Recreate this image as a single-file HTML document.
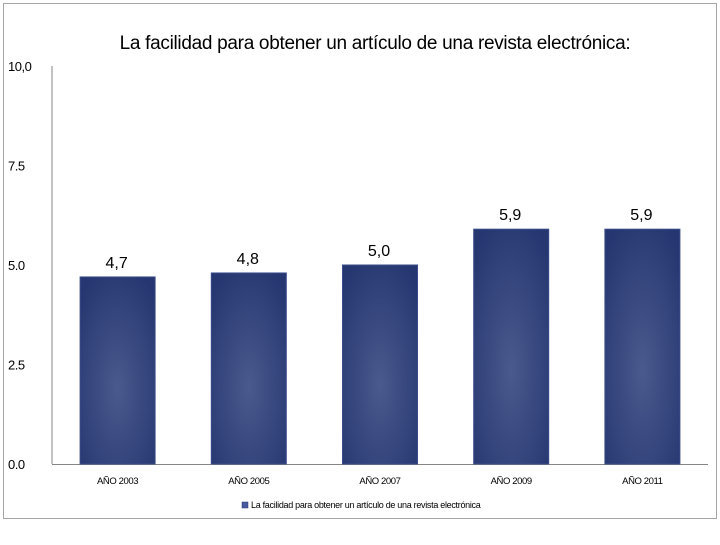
<!DOCTYPE html>
<html><head><meta charset="utf-8"><style>
body{margin:0;background:#fff;font-family:"Liberation Sans",sans-serif;}
svg text{font-family:"Liberation Sans",sans-serif;}
</style></head><body>
<svg width="720" height="540">
<defs>
<radialGradient id="bg" cx="0.5" cy="0.6" r="0.7">
<stop offset="0" stop-color="#4a5a8e"/><stop offset="1" stop-color="#253670"/>
</radialGradient>
</defs>
<rect x="3.5" y="3.5" width="713" height="515" fill="#fff" stroke="#a6a6a6"/>
<text x="375" y="49" text-anchor="middle" font-size="19" letter-spacing="-0.3" fill="#000">La facilidad para obtener un artículo de una revista electrónica:</text>
<g id="axes"></g>
<g id="bars"></g>
<rect x="242" y="502" width="6" height="6" fill="#4a5a9e" stroke="#253670" stroke-width="0.5"/>
<text x="251" y="508" font-size="9" letter-spacing="-0.3" fill="#000">La facilidad para obtener un artículo de una revista electrónica</text>
</svg>
<script>
const categories=["AÑO 2003","AÑO 2005","AÑO 2007","AÑO 2009","AÑO 2011"];
const values=[4.7,4.8,5.0,5.9,5.9];
const valueLabels=["4,7","4,8","5,0","5,9","5,9"];
const ticks=[0,2.5,5,7.5,10];
const tickLabels=["0.0","2.5","5.0","7.5","10,0"];
const NS="http://www.w3.org/2000/svg";
const x0=52,x1=708,yb=464,yt=66;
const y=v=>yb-(v/10)*(yb-yt);
const band=(x1-x0)/categories.length;
const xc=i=>x0+band*(i+0.5);
function mk(t,a,p){const e=document.createElementNS(NS,t);for(const k in a)e.setAttribute(k,a[k]);p.appendChild(e);return e;}
const ax=document.getElementById('axes'),bg=document.getElementById('bars');
ticks.forEach((t,i)=>{const tx=mk('text',{x:8,y:y(t)+5,'font-size':13,fill:'#000','letter-spacing':'-0.5'},ax);tx.textContent=tickLabels[i];

});
const yl=mk('line',{x1:x0,y1:yt,x2:x0,y2:yb,stroke:'#868686'},ax);


const xl=mk('line',{x1:x0,y1:yb+0.5,x2:x1,y2:yb+0.5,stroke:'#868686'},ax);


const bw=75;
values.forEach((v,i)=>{
 const r=mk('rect',{x:xc(i)-bw/2,y:y(v),width:bw,height:yb-y(v),fill:'url(#bg)',stroke:'#3a4c8a','stroke-width':1},bg);
 
 
 const vl=mk('text',{x:xc(i)-1,y:y(v)-9,'text-anchor':'middle','font-size':16,fill:'#000'},bg);vl.textContent=valueLabels[i];
 
 
 const cl=mk('text',{x:xc(i),y:484,'text-anchor':'middle','font-size':9.5,fill:'#000','letter-spacing':'-0.4'},bg);cl.textContent=categories[i];
 
 
});
</script>
</body></html>
